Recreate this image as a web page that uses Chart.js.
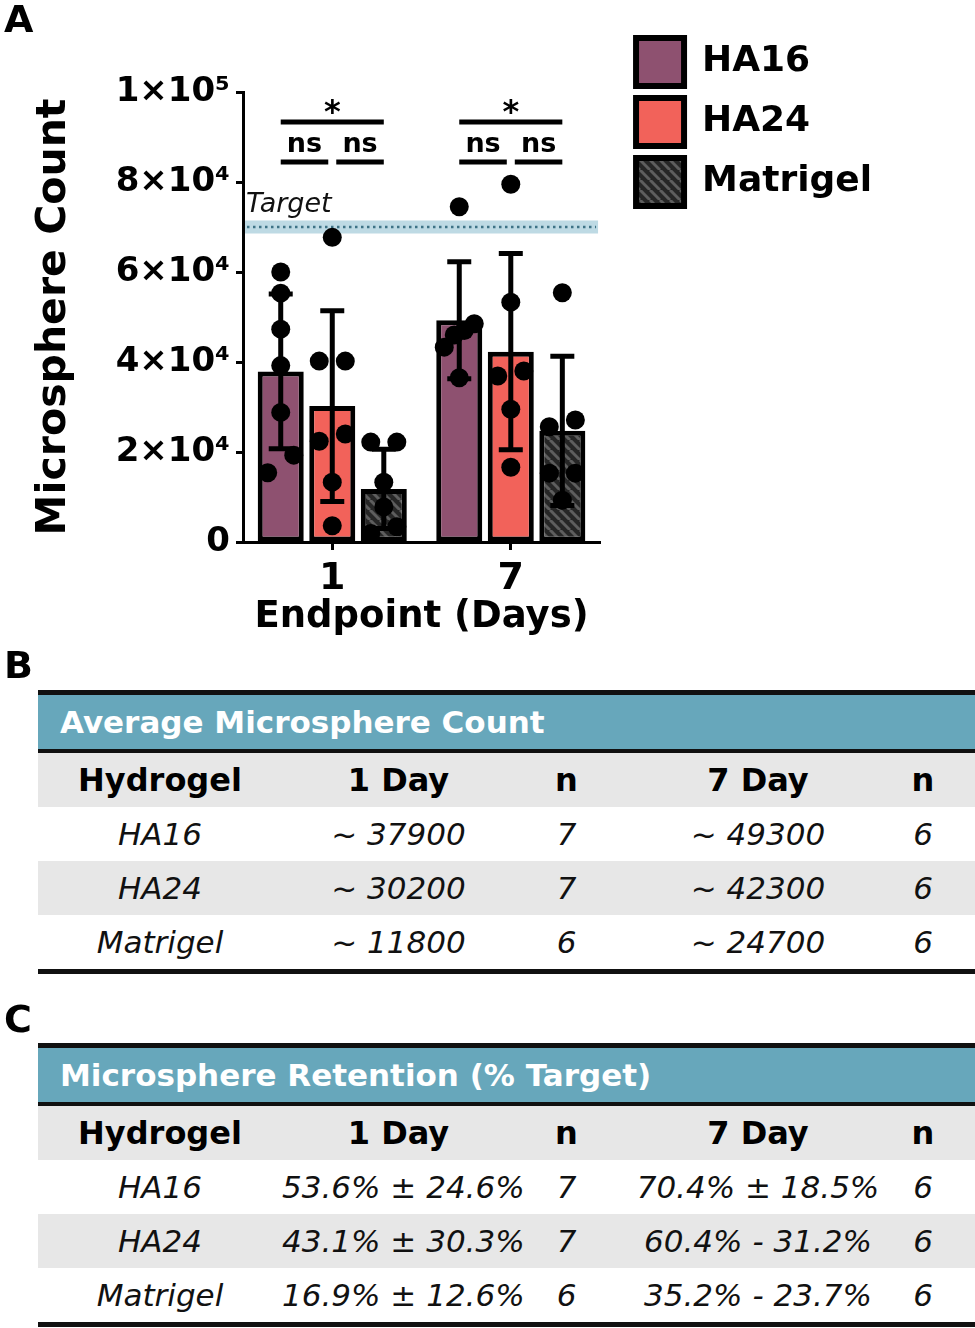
<!DOCTYPE html>
<html lang="en">
  <head>
    <meta charset="UTF-8" />
    <title>Microsphere count and retention</title>
    <script src="https://cdn.jsdelivr.net/npm/chart.js"></script>
    <style>
      body {
        margin: 0;
        background: #fff;
        font-family: "DejaVu Sans", sans-serif;
        color: #111;
      }

      .page {
        position: relative;
        width: 975px;
        height: 1328px;
        overflow: hidden;
      }

      .chart-box {
        position: absolute;
        left: 0;
        top: 0;
        width: 975px;
        height: 660px;
      }

      .letter {
        position: absolute;
        left: 4px;
        font-weight: bold;
        font-size: 38px;
        line-height: 38px;
        color: #000;
      }

      table.stats {
        position: absolute;
        left: 38px;
        width: 937px;
        border-collapse: collapse;
        table-layout: fixed;
      }

      table.stats td {
        padding: 0;
        height: 54px;
        text-align: center;
        white-space: nowrap;
      }

      tr.title td {
        background: #67a7bb;
        color: #fff;
        font-weight: bold;
        font-size: 31px;
        text-align: left;
        padding-left: 22px;
        border-top: 5px solid #111;
        border-bottom: 4px solid #111;
      }

      tr.head td {
        background: #e7e7e7;
        font-weight: bold;
        font-size: 32px;
        color: #000;
      }

      tr.row0 td,
      tr.row1 td {
        font-style: italic;
        font-size: 31px;
      }

      tr.row0 td { background: #fff; }
      tr.row1 td { background: #e7e7e7; }

      tr:last-child td {
        border-bottom: 5px solid #111;
      }
    </style>
  </head>
  <body>
    <div class="page">
      <div class="chart-box"><canvas id="countChart"></canvas></div>
      <div class="letter" style="top: 0px">A</div>
      <div class="letter" style="top: 646px">B</div>
      <div class="letter" style="top: 1000px">C</div>
      <table class="stats" id="countTable" style="top: 690px"></table>
      <table class="stats" id="retentionTable" style="top: 1043px"></table>
    </div>

    <script>
      // panel A data
      const days = ["1", "7"];
      const ha16Mean = [37900, 49300];
      const ha24Mean = [30200, 42300];
      const matrigelMean = [11800, 24700];
      const ha16Sd = [17200, 13000];
      const ha24Sd = [21200, 21800];
      const matrigelSd = [8800, 16600];
      const ha16Points = [
        [60000, 55300, 47300, 39200, 28800, 19300, 15400],
        [74500, 48500, 47000, 46000, 43300, 36500],
      ];
      const ha24Points = [
        [67700, 40200, 40200, 24000, 22400, 13300, 3600],
        [79500, 53300, 38000, 36900, 29500, 16600],
      ];
      const matrigelPoints = [
        [22200, 22200, 13300, 7800, 3400, 1900],
        [55400, 27100, 25600, 15300, 15300, 9300],
      ];
      const target = 70000;
      const yTicks = [0, 20000, 40000, 60000, 80000, 100000];

      // panel B / C data
      const hydrogels = ["HA16", "HA24", "Matrigel"];
      const countDay1 = ["~ 37900", "~ 30200", "~ 11800"];
      const countDay7 = ["~ 49300", "~ 42300", "~ 24700"];
      const retentionDay1 = ["53.6% ± 24.6%", "43.1% ± 30.3%", "16.9% ± 12.6%"];
      const retentionDay7 = ["70.4% ± 18.5%", "60.4% - 31.2%", "35.2% - 23.7%"];
      const nDay1 = [7, 7, 6];
      const nDay7 = [6, 6, 6];

      Chart.defaults.font.family = '"DejaVu Sans", sans-serif';
      Chart.defaults.color = "#000";

      const catPct = 0.866;
      const means = [ha16Mean, ha24Mean, matrigelMean];
      const sds = [ha16Sd, ha24Sd, matrigelSd];

      // striped fill for Matrigel
      function hatch() {
        const c = document.createElement("canvas");
        c.width = c.height = 10;
        const g = c.getContext("2d");
        g.fillStyle = "#262626";
        g.fillRect(0, 0, 10, 10);
        g.strokeStyle = "#5e5e5e";
        g.lineWidth = 3;
        for (let k = -1; k <= 1; k++) {
          g.beginPath();
          g.moveTo(k * 10, 0);
          g.lineTo(k * 10 + 10, 10);
          g.stroke();
        }
        return g.createPattern(c, "repeat");
      }

      // spread points sideways when their values are close
      function swarm(values, dy, step, maxOff) {
        const order = values.map((v, i) => i).sort((a, b) => values[a] - values[b]);
        const offs = values.map(() => 0);
        let cluster = [order[0]];
        const flush = () => {
          const n = cluster.length;
          if (n < 2) return;
          const gap = Math.min(step, (2 * maxOff) / (n - 1));
          cluster.forEach((idx, k) => (offs[idx] = (k - (n - 1) / 2) * gap));
        };
        for (let k = 1; k < order.length; k++) {
          if (values[order[k]] - values[order[k - 1]] < dy) cluster.push(order[k]);
          else {
            flush();
            cluster = [order[k]];
          }
        }
        flush();
        return offs;
      }

      // day index is the x value; bars and dots share one linear x axis
      const toXY = (arr) => arr.map((v, i) => ({ x: i, y: v }));

      const pointData = [];
      [ha16Points, ha24Points, matrigelPoints].forEach((grp, j) => {
        grp.forEach((vals, i) => {
          const offs = swarm(vals, 4300, 0.146, 0.084);
          vals.forEach((v, k) => {
            pointData.push({ x: i + ((j - 1) * catPct) / 3 + offs[k], y: v });
          });
        });
      });

      const supDigits = "⁰¹²³⁴⁵⁶⁷⁸⁹";
      function sci(v) {
        if (v === 0) return "0";
        const e = String(Math.round(v)).length - 1;
        return Math.round(v / 10 ** e) + "×10" + supDigits[e];
      }

      const targetLine = {
        id: "targetLine",
        beforeDatasetsDraw(chart) {
          const { ctx, chartArea: a, scales } = chart;
          const py = scales.y.getPixelForValue(target);
          ctx.save();
          ctx.fillStyle = "#bedae4";
          ctx.fillRect(a.left + 2, py - 6.5, a.right - a.left - 4, 13);
          ctx.strokeStyle = "#3e7386";
          ctx.lineWidth = 2.5;
          ctx.setLineDash([2.5, 3.5]);
          ctx.beginPath();
          ctx.moveTo(a.left + 4, py);
          ctx.lineTo(a.right - 4, py);
          ctx.stroke();
          ctx.setLineDash([]);
          ctx.fillStyle = "#111";
          ctx.font = 'italic 27px "DejaVu Sans"';
          ctx.fillText("Target", a.left + 3, py - 15);
          ctx.restore();
        },
      };

      const errorBars = {
        id: "errorBars",
        afterDatasetsDraw(chart) {
          const { ctx, scales } = chart;
          ctx.save();
          ctx.strokeStyle = "#000";
          ctx.lineWidth = 5;
          for (let j = 0; j < 3; j++) {
            chart.getDatasetMeta(j).data.forEach((bar, i) => {
              const top = scales.y.getPixelForValue(means[j][i] + sds[j][i]);
              const bot = scales.y.getPixelForValue(means[j][i] - sds[j][i]);
              ctx.beginPath();
              ctx.moveTo(bar.x, top);
              ctx.lineTo(bar.x, bot);
              ctx.moveTo(bar.x - 12, top);
              ctx.lineTo(bar.x + 12, top);
              ctx.moveTo(bar.x - 12, bot);
              ctx.lineTo(bar.x + 12, bot);
              ctx.stroke();
            });
          }
          ctx.restore();
        },
      };

      const significance = {
        id: "significance",
        afterDraw(chart) {
          const { ctx, chartArea: a } = chart;
          const yTop = a.top + 30;
          const yNs = a.top + 70;
          ctx.save();
          ctx.strokeStyle = "#000";
          ctx.fillStyle = "#000";
          ctx.lineWidth = 5;
          ctx.textAlign = "center";
          days.forEach((d, i) => {
            const [c0, c1, c2] = [0, 1, 2].map((j) => chart.getDatasetMeta(j).data[i].x);
            ctx.beginPath();
            ctx.moveTo(c0, yTop);
            ctx.lineTo(c2, yTop);
            ctx.moveTo(c0, yNs);
            ctx.lineTo(c1 - 4, yNs);
            ctx.moveTo(c1 + 4, yNs);
            ctx.lineTo(c2, yNs);
            ctx.stroke();
            ctx.font = 'bold 32px "DejaVu Sans"';
            ctx.fillText("*", (c0 + c2) / 2, yTop);
            ctx.font = 'bold 27px "DejaVu Sans"';
            ctx.fillText("ns", (c0 + c1 - 4) / 2, yNs - 10);
            ctx.fillText("ns", (c1 + 4 + c2) / 2, yNs - 10);
          });
          ctx.restore();
        },
      };

      const ctx = document.getElementById("countChart").getContext("2d");

      const countChart = new Chart(ctx, {
        type: "bar",
        data: {
          datasets: [
            { label: "HA16", data: toXY(ha16Mean), backgroundColor: "#8e5170", xAxisID: "x", yAxisID: "y" },
            { label: "HA24", data: toXY(ha24Mean), backgroundColor: "#f2625a", xAxisID: "x", yAxisID: "y" },
            { label: "Matrigel", data: toXY(matrigelMean), backgroundColor: hatch(), xAxisID: "x", yAxisID: "y" },
            {
              type: "scatter",
              label: "points",
              data: pointData,
              xAxisID: "x",
              yAxisID: "y",
              order: -1,
              pointRadius: 9.5,
              pointBorderWidth: 0,
              backgroundColor: "#000",
              borderColor: "#000",
            },
          ],
        },
        options: {
          responsive: true,
          maintainAspectRatio: false,
          animation: false,
          events: [],
          layout: { padding: { top: 26, right: 93, bottom: 8, left: 30 } },
          datasets: {
            bar: {
              categoryPercentage: catPct,
              barPercentage: 0.893,
              borderWidth: 5,
              borderColor: "#000",
              borderSkipped: false,
            },
          },
          scales: {
            y: {
              min: 0,
              max: 100000,
              afterBuildTicks: (s) => {
                s.ticks = yTicks.map((v) => ({ value: v }));
              },
              grid: { drawOnChartArea: false, tickLength: 7, tickWidth: 3, tickColor: "#000" },
              border: { color: "#000", width: 3 },
              ticks: {
                color: "#000",
                padding: 6,
                font: { size: 34, weight: "bold" },
                callback: (v) => sci(v),
              },
              title: {
                display: true,
                text: "Microsphere Count",
                color: "#000",
                font: { size: 41, weight: "bold" },
                padding: 0,
              },
              afterFit: (s) => {
                s.width = 213;
              },
            },
            x: {
              type: "linear",
              min: -0.5,
              max: 1.5,
              offset: false,
              afterBuildTicks: (s) => {
                s.ticks = days.map((d, i) => ({ value: i }));
              },
              grid: {
                drawOnChartArea: false,
                offset: false,
                tickLength: 8,
                tickWidth: 3,
                tickColor: "#000",
              },
              border: { color: "#000", width: 3 },
              ticks: {
                color: "#000",
                padding: 6,
                font: { size: 38, weight: "bold" },
                callback: (v) => days[v],
              },
              title: {
                display: true,
                text: "Endpoint (Days)",
                color: "#000",
                font: { size: 37, weight: "bold" },
                padding: { top: 0, bottom: 12 },
              },
              afterFit: (s) => {
                s.height = 110;
              },
            },
            // empty axes used only to leave room above the plot and before the legend
            xs: {
              type: "linear",
              position: "top",
              offset: false,
              grid: { display: false },
              border: { display: false },
              ticks: { display: false },
              afterFit: (s) => {
                s.height = 66;
              },
            },
            gap: {
              type: "linear",
              position: "right",
              grid: { display: false },
              border: { display: false },
              ticks: { display: false },
              afterFit: (s) => {
                s.width = 24;
              },
            },
          },
          plugins: {
            tooltip: { enabled: false },
            legend: {
              position: "right",
              align: "start",
              maxWidth: 400,
              labels: {
                boxWidth: 48,
                boxHeight: 48,
                padding: 12,
                color: "#000",
                font: { size: 36, weight: "bold" },
                filter: (item) => item.datasetIndex < 3,
                generateLabels: (chart) =>
                  Chart.defaults.plugins.legend.labels
                    .generateLabels(chart)
                    .map((it) => Object.assign(it, { lineWidth: 6 })),
              },
            },
          },
        },
        plugins: [targetLine, errorBars, significance],
      });

      function buildTable(id, title, day1, day7) {
        let html =
          '<colgroup><col style="width:244px"><col style="width:233px"><col style="width:103px">' +
          '<col style="width:280px"><col style="width:50px"><col style="width:27px"></colgroup>';
        html += `<tr class="title"><td colspan="6">${title}</td></tr>`;
        html += '<tr class="head"><td>Hydrogel</td><td>1 Day</td><td>n</td><td>7 Day</td><td>n</td><td></td></tr>';
        hydrogels.forEach((g, i) => {
          html +=
            `<tr class="row${i % 2}"><td>${g}</td><td>${day1[i]}</td><td>${nDay1[i]}</td>` +
            `<td>${day7[i]}</td><td>${nDay7[i]}</td><td></td></tr>`;
        });
        document.getElementById(id).innerHTML = html;
      }

      buildTable("countTable", "Average Microsphere Count", countDay1, countDay7);
      buildTable("retentionTable", "Microsphere Retention (% Target)", retentionDay1, retentionDay7);
    </script>
  </body>
</html>
